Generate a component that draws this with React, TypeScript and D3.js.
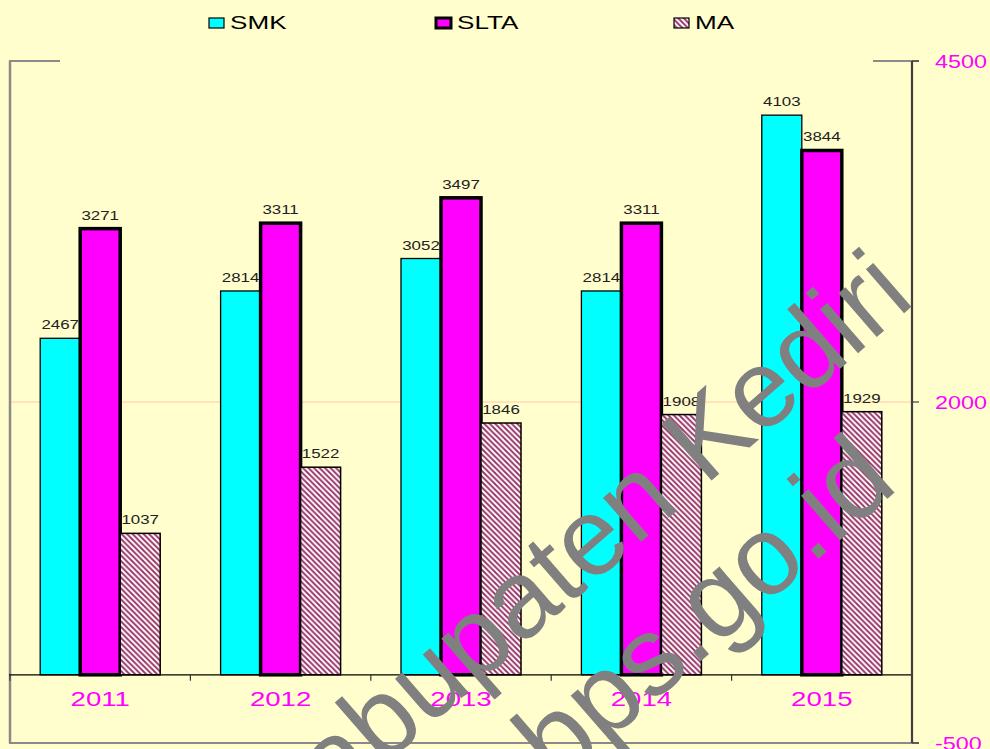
import React from 'react';
import * as d3 from 'd3';

const YEARS = ['2011', '2012', '2013', '2014', '2015'];
const SERIES = ['SMK', 'SLTA', 'MA'];
const SMK = [2467, 2814, 3052, 2814, 4103];
const SLTA = [3271, 3311, 3497, 3311, 3844];
const MA = [1037, 1522, 1846, 1908, 1929];
const Y_TICKS = [4500, 2000, -500];
const WATERMARK = ['Kabupaten Kediri', 'bps.go.id'];

const W = 990;
const H = 749;
const FONT = 'Arial, "Liberation Sans", Helvetica, sans-serif';

function SText({ x, y, sx = 1.35, size, fill = '#000', anchor = 'middle', children }: any) {
  return (
    <text
      transform={`translate(${x},${y}) scale(${sx},1)`}
      fontSize={size}
      fill={fill}
      textAnchor={anchor}
      fontFamily={FONT}
    >
      {children}
    </text>
  );
}

export default function App() {
  const left = 10;
  const right = 912;
  const y = d3.scaleLinear().domain([-500, 4500]).range([743, 61]);
  const x = d3.scaleBand<string>().domain(YEARS).range([left, right]).paddingInner(0).paddingOuter(0);
  const inner = d3.scaleBand<string>().domain(SERIES).range([0, x.bandwidth()]).paddingInner(0).paddingOuter(0.755);
  const values: Record<string, number[]> = { SMK, SLTA, MA };
  const fills: Record<string, string> = { SMK: '#00FFFF', SLTA: '#FF00FF', MA: 'url(#hatch)' };
  const strokes: Record<string, number> = { SMK: 1.3, SLTA: 3.5, MA: 1.5 };
  const y0 = y(0);
  const bandEdges = [...YEARS.map((d) => x(d) as number), right];
  const legendX: Record<string, number> = { SMK: 209, SLTA: 436, MA: 674 };

  return (
    <svg width={W} height={H} style={{ position: 'absolute', left: 0, top: 0, display: 'block' }}>
      <defs>
        <pattern id="hatch" patternUnits="userSpaceOnUse" width={5.5} height={5.5}>
          <rect width={5.5} height={5.5} fill="#FFFFFF" />
          <path d="M-1,-1 L6.5,6.5 M-1,4.5 L1,6.5 M4.5,-1 L6.5,1" stroke="#993366" strokeWidth={1.9} />
        </pattern>
      </defs>
      <rect x={0} y={0} width={W} height={H} fill="#FFFECC" />

      {/* gridline at 2000 */}
      <line x1={left} x2={right} y1={y(2000)} y2={y(2000)} stroke="#FFC8A8" strokeWidth={1} />

      {/* frame */}
      <line x1={left} x2={left} y1={y(4500)} y2={y(-500)} stroke="#8A8A8A" strokeWidth={2.5} />
      <line x1={left - 1} x2={60} y1={y(4500)} y2={y(4500)} stroke="#8A8A8A" strokeWidth={2} />
      <line x1={left - 1} x2={919} y1={y(-500)} y2={y(-500)} stroke="#8A8A8A" strokeWidth={2} />
      <line x1={873} x2={919} y1={y(4500)} y2={y(4500)} stroke="#8A8A8A" strokeWidth={2} />

      {/* bars */}
      {YEARS.map((yr, i) => (
        <g key={yr}>
          {SERIES.map((s) => {
            const v = values[s][i];
            const bx = (x(yr) as number) + (inner(s) as number);
            const bw = inner.bandwidth();
            const top = y(v);
            return (
              <g key={s}>
                <rect x={bx} y={top} width={bw} height={y0 - top} fill={fills[s]} stroke="#000" strokeWidth={strokes[s]} />
                <SText x={bx + bw / 2} y={top - 9} size={13} sx={1.3} fill="#222">
                  {v}
                </SText>
              </g>
            );
          })}
        </g>
      ))}

      {/* category axis */}
      <line x1={left - 1} x2={right} y1={y0} y2={y0} stroke="#000" strokeWidth={1.2} />
      {bandEdges.map((bx, i) => (
        <line key={i} x1={bx} x2={bx} y1={y0} y2={y0 + 6} stroke="#333" strokeWidth={1.2} />
      ))}
      {YEARS.map((yr) => (
        <SText key={yr} x={(x(yr) as number) + x.bandwidth() / 2} y={706} size={20} sx={1.38} fill="#FF00FF">
          {yr}
        </SText>
      ))}

      {/* right value axis */}
      <line x1={right} x2={right} y1={y(4500)} y2={y(-500)} stroke="#404040" strokeWidth={2.2} />
      {Y_TICKS.map((t) => (
        <g key={t}>
          <line x1={right} x2={919} y1={y(t)} y2={y(t)} stroke="#404040" strokeWidth={1.2} />
          <SText x={935} y={y(t) + 6.5} size={18} sx={1.3} anchor="start" fill="#FF00FF">
            {t}
          </SText>
        </g>
      ))}

      {/* legend */}
      {SERIES.map((s) => (
        <g key={s}>
          <rect
            x={legendX[s]}
            y={18}
            width={15}
            height={10}
            fill={fills[s]}
            stroke="#000"
            strokeWidth={s === 'SLTA' ? 3 : 1.2}
          />
          <SText x={legendX[s] + 21} y={29} size={18} sx={1.45} anchor="start" fill="#000">
            {s}
          </SText>
        </g>
      ))}

      {/* watermark */}
      <text
        transform="translate(917,302) rotate(-41)"
        fontSize={110}
        fill="#808080"
        textAnchor="end"
        fontFamily={FONT}
      >
        {WATERMARK[0]}
      </text>
      <text
        transform="translate(900,488) rotate(-41)"
        fontSize={112}
        fill="#808080"
        textAnchor="end"
        fontFamily={FONT}
      >
        {WATERMARK[1]}
      </text>
    </svg>
  );
}
